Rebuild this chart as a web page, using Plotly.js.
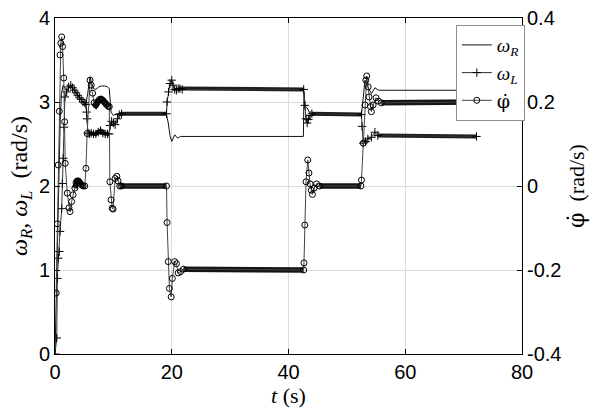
<!DOCTYPE html>
<html><head><meta charset="utf-8">
<script src="https://cdn.plot.ly/plotly-3.0.1.min.js"></script>
<style>html,body{margin:0;padding:0;background:#fff}#chart{width:594px;height:416px}</style>
</head><body><div id="chart"></div>
<script>
// ---- data ----
const tR = [0, 0.3, 0.5, 0.7, 0.9, 1.1, 1.4, 1.7, 2.0, 2.3, 2.7, 3.0, 3.5, 4.0, 4.5, 5.0, 5.3, 5.6, 6.0, 6.3, 6.6, 7.0, 7.5, 8.0, 8.5, 9.0, 9.3, 9.6, 10.0, 10.5, 11.0, 19.1, 19.4, 19.7, 20.0, 20.5, 21.0, 21.5, 42.55, 42.65, 42.85, 43.2, 43.6, 44.2, 52.5, 52.8, 53.1, 53.65, 54.2, 54.8, 55.4, 72.2];
const omegaR = [0, 0.9, 1.6, 2.3, 2.8, 3.1, 3.2, 3.16, 3.13, 3.16, 3.2, 3.17, 3.12, 3.06, 3.02, 2.99, 2.98, 3.1, 3.3, 3.22, 3.16, 3.15, 3.18, 3.19, 3.19, 3.18, 3.16, 2.88, 2.84, 2.86, 2.85, 2.85, 2.75, 2.6, 2.53, 2.61, 2.57, 2.59, 2.59, 3.12, 2.95, 2.93, 2.87, 2.85, 2.85, 3.05, 3.26, 3.17, 3.1, 3.17, 3.14, 3.14];

const tL = [0, 0.3, 0.4, 0.57, 0.74, 0.86, 1.15, 1.25, 1.42, 1.55, 1.7, 2.0, 2.3, 2.7, 3.0, 3.3, 3.6, 3.9, 4.2, 4.5, 4.8, 5.1, 5.3, 5.4, 5.5, 5.65, 5.9, 6.2, 6.6, 7.0, 7.4, 7.8, 8.2, 8.6, 9.0, 9.3, 9.45, 9.7, 10.0, 10.3, 10.7, 11.0, 11.4, 19.1, 19.2, 19.45, 19.7, 20.0, 20.2, 20.5, 20.8, 21.1, 21.4, 21.8, 42.6, 42.8, 43.0, 43.2, 43.4, 43.7, 44.0, 52.5, 52.6, 52.8, 53.2, 53.6, 54.2, 54.8, 55.3, 72.2];
const omegaL = [0, 0.19, 0.9, 1.14, 1.22, 1.46, 1.73, 2.03, 2.33, 2.7, 3.06, 3.12, 3.18, 3.2, 3.17, 3.14, 3.11, 3.08, 3.05, 3.03, 3.0, 2.99, 2.97, 2.88, 2.8, 2.63, 2.62, 2.63, 2.62, 2.62, 2.64, 2.66, 2.63, 2.62, 2.62, 2.62, 2.72, 2.77, 2.75, 2.73, 2.8, 2.85, 2.86, 2.86, 3.0, 3.12, 3.22, 3.26, 3.2, 3.15, 3.14, 3.16, 3.16, 3.15, 3.15, 2.96, 2.8, 2.75, 2.79, 2.84, 2.86, 2.85, 2.71, 2.51, 2.53, 2.56, 2.58, 2.64, 2.6, 2.59];

const tPhi = [0.2, 0.4, 0.55, 0.74, 0.86, 1.0, 1.15, 1.3, 1.5, 1.65, 1.75, 2.1, 2.4, 2.57, 2.85, 3.1, 3.4, 3.6, 3.8, 4.0, 4.2, 4.5, 4.8, 5.1, 5.3, 5.5, 6.0, 6.2, 6.45, 6.7, 7.0, 7.3, 7.6, 7.9, 8.2, 8.5, 8.8, 9.1, 9.3, 9.4, 9.6, 9.8, 9.95, 10.3, 10.6, 10.8, 11.1, 11.4, 19.1, 19.2, 19.4, 19.6, 19.9, 20.1, 20.5, 20.8, 21.1, 21.5, 22.0, 42.6, 42.65, 42.8, 43.0, 43.3, 43.5, 43.7, 43.9, 44.1, 44.4, 44.8, 45.3, 52.4, 52.5, 52.8, 53.1, 53.25, 53.4, 53.65, 53.8, 54.05, 54.2, 54.5, 55.0, 55.4, 55.9, 72.2];
const phiDot = [-0.255, -0.09, 0.05, 0.178, 0.312, 0.34, 0.355, 0.332, 0.257, 0.153, 0.054, -0.017, -0.052, -0.061, -0.037, -0.021, -0.005, 0.008, 0.012, 0.012, 0.009, 0.003, 0.0, 0.0, 0.042, 0.125, 0.252, 0.24, 0.221, 0.198, 0.193, 0.2, 0.206, 0.207, 0.204, 0.199, 0.194, 0.19, 0.189, 0.01, -0.033, -0.053, -0.055, 0.018, 0.023, 0.012, 0.0, 0.0, 0.0, -0.087, -0.18, -0.244, -0.264, -0.22, -0.18, -0.185, -0.207, -0.204, -0.198, -0.2, -0.183, -0.093, 0.01, 0.062, 0.031, 0.005, -0.01, -0.02, -0.005, 0.005, 0.0, 0.0, 0.014, 0.102, 0.193, 0.252, 0.262, 0.236, 0.212, 0.189, 0.177, 0.193, 0.21, 0.202, 0.198, 0.2];

// time windows where the densely sampled markers merge into a solid band
const bandWindowsL = [[5.9, 9.3], [11.0, 19.1], [21.1, 42.6], [44.0, 52.5], [55.3, 72.2]];
const bandWindowsPhi = [[3.4, 5.1], [6.7, 9.3], [11.1, 19.1], [22.0, 42.6], [45.3, 52.4], [55.9, 72.2]];

const xTicks = [0, 20, 40, 60, 80];
const yLeftTicks = [0, 1, 2, 3, 4];
const yRightTicks = [-0.4, -0.2, 0, 0.2, 0.4];
const yRightLabels = ['-0.4', '-0.2', '0', '0.2', '0.4'];

function band(t, v, windows) {
  const x = [], y = [];
  windows.forEach(([a, b], k) => {
    if (k > 0) { x.push(null); y.push(null); }
    t.forEach((ti, i) => { if (ti >= a && ti <= b) { x.push(ti); y.push(v[i]); } });
  });
  return {x, y};
}

const bL = band(tL, omegaL, bandWindowsL);
const bP = band(tPhi, phiDot, bandWindowsPhi);

const serif = 'Liberation Serif, DejaVu Serif, serif';
const sans = 'Liberation Sans, Arial, Helvetica, sans-serif';
const phiLabel = '<span style="font-family:DejaVu Serif">φ̇</span>';

const traces = [
  {x: bL.x, y: bL.y, mode: 'lines', line: {color: '#1e1e1e', width: 4}, showlegend: false, hoverinfo: 'skip'},
  {x: bP.x, y: bP.y, yaxis: 'y2', mode: 'lines', line: {color: '#151515', width: 5.5}, showlegend: false, hoverinfo: 'skip'},
  {x: tR, y: omegaR, mode: 'lines', name: '<i>ω</i><sub><i>R</i></sub>', line: {color: '#111', width: 1}},
  {x: tL, y: omegaL, mode: 'lines+markers', name: '<i>ω</i><sub><i>L</i></sub>', line: {color: '#333', width: 1},
   marker: {symbol: 'cross-thin', size: 6, line: {color: '#000', width: 1}, color: '#000'}},
  {x: tPhi, y: phiDot, yaxis: 'y2', mode: 'lines+markers', name: phiLabel, line: {color: '#444', width: 1},
   marker: {symbol: 'circle-open', size: 6, color: '#000', line: {width: 1}}}
];

const axisCommon = {
  ticks: 'inside', ticklen: 5, tickcolor: '#000', tickwidth: 1,
  showline: true, linecolor: '#000', linewidth: 1,
  zeroline: false, gridcolor: '#dcdcdc', gridwidth: 1,
  tickfont: {family: sans, size: 20, color: '#000'}
};

const layout = {
  width: 594, height: 416,
  margin: {l: 55, r: 72, t: 18, b: 62},
  paper_bgcolor: '#fff', plot_bgcolor: '#fff',
  font: {family: sans, color: '#000'},
  showlegend: true,
  legend: {x: 1.006, xanchor: 'right', y: 0.979, yanchor: 'top', bgcolor: '#fff', bordercolor: '#8c8c8c', borderwidth: 1,
    font: {family: serif, size: 19, color: '#000'}, itemwidth: 30, tracegroupgap: 0},
  xaxis: Object.assign({}, axisCommon, {range: [0, 80], tickvals: xTicks, mirror: 'ticks', showgrid: true,
    title: {text: '<i>t</i> (s)', font: {family: serif, size: 22, color: '#000'}, standoff: 4}}),
  yaxis: Object.assign({}, axisCommon, {range: [0, 4], tickvals: yLeftTicks, mirror: true, showgrid: true,
    title: {text: '<i>ω<sub>R</sub></i>, <i>ω<sub>L</sub></i>  (rad/s)', font: {family: serif, size: 24, color: '#000'}, standoff: 4}}),
  yaxis2: Object.assign({}, axisCommon, {overlaying: 'y', side: 'right', range: [-0.4, 0.4], tickvals: yRightTicks, ticktext: yRightLabels,
    showgrid: false, title: {text: phiLabel + '  (rad/s)', font: {family: serif, size: 22, color: '#000'}, standoff: 8}})
};

Plotly.newPlot('chart', traces, layout, {staticPlot: true, displayModeBar: false});
</script>
</body></html>
